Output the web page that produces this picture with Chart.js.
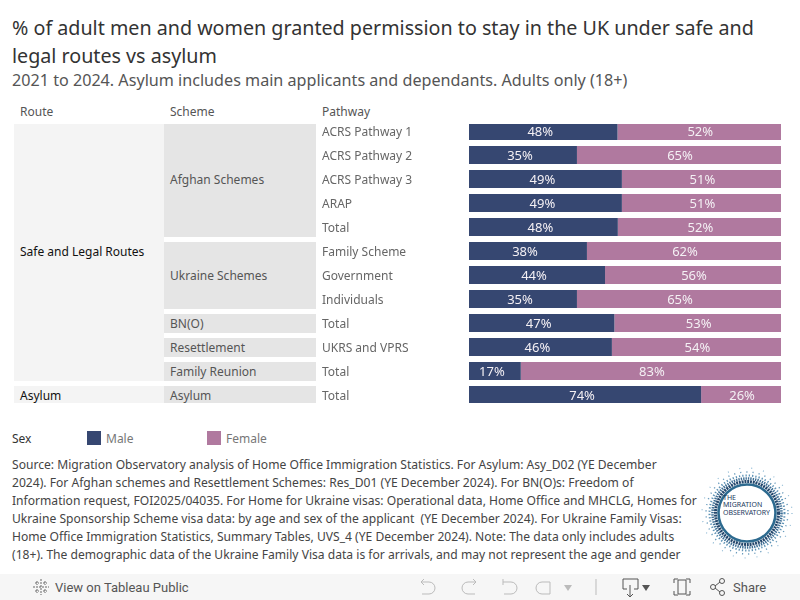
<!DOCTYPE html>
<html>
<head>
<meta charset="utf-8">
<script src="https://cdn.jsdelivr.net/npm/chart.js@4"></script>
<style>
    html, body { margin: 0; padding: 0; background: #fff; }
    body { width: 800px; height: 600px; position: relative; overflow: hidden; font-family: "Noto Sans", sans-serif; }
    .abs { position: absolute; white-space: nowrap; }
    .mid { transform: translateY(-50%); }
    .title { left: 12px; font-size: 19.7px; color: #333; }
    .head { font-size: 12px; color: #555; }
    .route { font-size: 12px; color: #111; left: 20px; }
    .scheme { font-size: 12px; color: #555; left: 170px; }
    .block1 { position: absolute; background: #f4f4f4; left: 14px; width: 150px; }
    .block2 { position: absolute; background: #e5e5e5; left: 164px; width: 152px; }
    #barsWrap { position: absolute; left: 322px; top: 124px; width: 459px; height: 279px; overflow: hidden; }
    #bars { position: absolute; left: 0; top: -5px; }
    .swatch { position: absolute; width: 14px; height: 14px; top: 431px; }
    .legendText { font-size: 12px; color: #777; }
    #source { position: absolute; left: 12px; top: 456px; width: 690px; height: 107px; overflow: hidden; font-size: 12.1px; line-height: 18.1px; color: #444; white-space: nowrap; }
    #toolbar { position: absolute; left: 0; top: 574px; width: 800px; height: 26px; background: #f6f6f6; }
    #toolbar text { font-family: "Roboto", sans-serif; font-size: 13px; fill: #555; }
</style>
</head>
<body>
    <div class="abs title mid" style="top: 27px;">% of adult men and women granted permission to stay in the UK under safe and</div>
    <div class="abs title mid" style="top: 55px;">legal routes vs asylum</div>
    <div class="abs mid" style="left: 12px; top: 80px; font-size: 16.15px; color: #555;">2021 to 2024. Asylum includes main applicants and dependants. Adults only (18+)</div>

    <div class="abs head mid" style="left: 20px; top: 110.5px;">Route</div>
    <div class="abs head mid" style="left: 170px; top: 110.5px;">Scheme</div>
    <div class="abs head mid" style="left: 322px; top: 110.5px;">Pathway</div>

    <div class="block1" style="top: 124px; height: 257px;"></div>
    <div class="block1" style="top: 386px; height: 17px;"></div>
    <div class="block2" style="top: 124px; height: 113px;"></div>
    <div class="block2" style="top: 242px; height: 67px;"></div>
    <div class="block2" style="top: 314px; height: 19px;"></div>
    <div class="block2" style="top: 338px; height: 19px;"></div>
    <div class="block2" style="top: 362px; height: 19px;"></div>
    <div class="block2" style="top: 386px; height: 17px;"></div>

    <div class="abs route mid" style="top: 251px;">Safe and Legal Routes</div>
    <div class="abs route mid" style="top: 395px;">Asylum</div>
    <div class="abs scheme mid" style="top: 179px;">Afghan Schemes</div>
    <div class="abs scheme mid" style="top: 275px;">Ukraine Schemes</div>
    <div class="abs scheme mid" style="top: 323px;">BN(O)</div>
    <div class="abs scheme mid" style="top: 347px;">Resettlement</div>
    <div class="abs scheme mid" style="top: 371px;">Family Reunion</div>
    <div class="abs scheme mid" style="top: 395px;">Asylum</div>

    <div id="barsWrap"><canvas id="bars" width="459" height="288"></canvas></div>

    <div class="abs head mid" style="left: 12px; top: 438px; color: #333;">Sex</div>
    <div class="swatch" id="swatchMale" style="left: 87px;"></div>
    <div class="abs legendText mid" id="labelMale" style="left: 106px; top: 438px;"></div>
    <div class="swatch" id="swatchFemale" style="left: 207px;"></div>
    <div class="abs legendText mid" id="labelFemale" style="left: 226px; top: 438px;"></div>

    <div id="source">Source: Migration Observatory analysis of Home Office Immigration Statistics. For Asylum: Asy_D02 (YE December<br>
2024). For Afghan schemes and Resettlement Schemes: Res_D01 (YE December 2024). For BN(O)s: Freedom of<br>
Information request, FOI2025/04035. For Home for Ukraine visas: Operational data, Home Office and MHCLG, Homes for<br>
Ukraine Sponsorship Scheme visa data: by age and sex of the applicant&nbsp; (YE December 2024). For Ukraine Family Visas:<br>
Home Office Immigration Statistics, Summary Tables, UVS_4 (YE December 2024). Note: The data only includes adults<br>
(18+). The demographic data of the Ukraine Family Visa data is for arrivals, and may not represent the age and gender</div>

    <!-- logo -->
    <svg class="abs" style="left: 700px; top: 462px;" width="94" height="102" viewBox="0 0 94 102">
        <circle cx="47" cy="51" r="45" fill="none" stroke="#8db8d3" stroke-width="1.2" stroke-dasharray="1 11"/>
        <circle cx="47" cy="51" r="41" fill="none" stroke="#6a9cbd" stroke-width="1.4" stroke-dasharray="1.2 5"/>
        <circle cx="47" cy="51" r="37.5" fill="none" stroke="#5d92b5" stroke-width="2" stroke-dasharray="1.3 2"/>
        <circle cx="47" cy="51" r="34.5" fill="none" stroke="#3f6f95" stroke-width="2.6" stroke-dasharray="1.4 1"/>
        <circle cx="47" cy="51" r="31.5" fill="none" stroke="#24476c" stroke-width="3" stroke-dasharray="2 0.8"/>
        <circle cx="47" cy="51" r="28.5" fill="none" stroke="#2d6a8f" stroke-width="2.6"/>
        <g font-family="Noto Sans, sans-serif" font-size="7" fill="#233a5e">
            <text x="23" y="37.5">THE</text>
            <text x="23" y="45">MIGRATION</text>
            <text x="23" y="52.5" textLength="47">OBSERVATORY</text>
        </g>
    </svg>

    <svg id="toolbar" viewBox="0 0 800 26">
        <g stroke="#666" stroke-width="1" fill="none">
            <path d="M41 5v16M33 13h16M37 7v4M35 9h4M45 7v4M43 9h4M37 15v4M35 17h4M45 15v4M43 17h4" stroke-dasharray="2 1"/>
        </g>
        <text x="55" y="17.5">View on Tableau Public</text>
        <g stroke="#bbb" stroke-width="1" fill="none">
            <path d="M421 8h8a6 6 0 0 1 0 12h-7M421 8l3-3M421 8l3 3"/>
            <path d="M476 8h-8a6 6 0 0 0 0 12h7M476 8l-3-3M476 8l-3 3"/>
            <path d="M503 8h8a6 6 0 0 1 0 12h-7M503 5v6"/>
            <path d="M550 8h-8a6 6 0 0 0 0 12h8z"/>
            <path d="M596 5v16"/>
        </g>
        <path d="M564 11h8l-4 6z" fill="#bbb"/>
        <g stroke="#555" stroke-width="1" fill="none">
            <path d="M627 15h-4v-10h15v10h-4M630 11v12M627 20l3 3 3-3"/>
            <path d="M678 6h8v14h-8zM674 9v-4h4M686 5h4v4M690 17v4h-4M678 21h-4v-4"/>
            <circle cx="713" cy="13" r="2.5"/><circle cx="722" cy="7" r="2.5"/><circle cx="722" cy="19" r="2.5"/>
            <path d="M715 12l5-4M715 14l5 4"/>
        </g>
        <path d="M642 11h8l-4 6z" fill="#555"/>
        <text x="733" y="17.5">Share</text>
    </svg>

<script>
// values
const pathways = ['ACRS Pathway 1', 'ACRS Pathway 2', 'ACRS Pathway 3', 'ARAP', 'Total', 'Family Scheme', 'Government', 'Individuals', 'Total', 'UKRS and VPRS', 'Total', 'Total'];
const maleValues = [47.6, 34.6, 49, 49, 47.7, 37.8, 43.6, 34.6, 46.6, 45.8, 16.6, 74.4];
const femaleValues = [52.4, 65.4, 51, 51, 52.3, 62.2, 56.4, 65.4, 53.4, 54.2, 83.4, 25.6];
const seriesNames = ['Male', 'Female'];
const seriesColors = ['#364771', '#b0799f'];

document.getElementById('swatchMale').style.background = seriesColors[0];
document.getElementById('swatchFemale').style.background = seriesColors[1];
document.getElementById('labelMale').textContent = seriesNames[0];
document.getElementById('labelFemale').textContent = seriesNames[1];

// white % labels near the middle of each segment
const barLabels = {
    id: 'barLabels',
    afterDatasetsDraw(chart) {
        const ctx = chart.ctx;
        const nudge = [-3, 1];
        ctx.save();
        ctx.fillStyle = '#f4f0f4';
        ctx.font = '13px "Noto Sans"';
        ctx.textAlign = 'center';
        ctx.textBaseline = 'middle';
        chart.data.datasets.forEach((ds, i) => {
            chart.getDatasetMeta(i).data.forEach((bar, j) => {
                const p = bar.getProps(['x', 'y', 'base'], true);
                ctx.fillText(Math.round(ds.data[j]) + '%', (p.x + p.base) / 2 + nudge[i], p.y + 1);
            });
        });
        ctx.restore();
    }
};

new Chart(document.getElementById('bars'), {
    type: 'bar',
    data: {
        labels: pathways,
        datasets: [
            { label: seriesNames[0], data: maleValues, backgroundColor: seriesColors[0] },
            { label: seriesNames[1], data: femaleValues, backgroundColor: seriesColors[1] }
        ]
    },
    options: {
        indexAxis: 'y',
        responsive: false,
        animation: false,
        layout: { padding: 0 },
        barPercentage: 0.75,
        categoryPercentage: 1,
        plugins: { legend: { display: false }, tooltip: { enabled: false } },
        scales: {
            x: { stacked: true, min: 0, max: 100, display: false },
            y: {
                stacked: true,
                grid: { display: false },
                border: { display: false },
                // full 24px rows, no room kept for the first/last tick label
                afterFit(scale) {
                    scale.width = 147;
                    scale.paddingTop = 0;
                    scale.paddingBottom = 0;
                },
                ticks: {
                    autoSkip: false,
                    crossAlign: 'far',
                    labelOffset: 2,
                    color: '#666',
                    font: { family: 'Noto Sans', size: 12 }
                }
            }
        }
    },
    plugins: [barLabels]
});
</script>
</body>
</html>
